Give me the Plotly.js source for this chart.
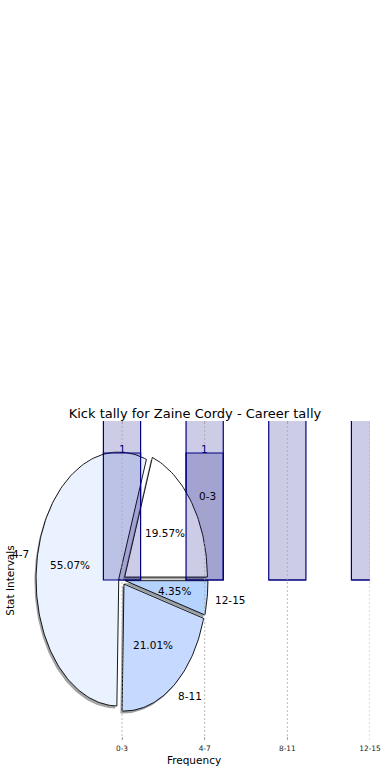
<!DOCTYPE html>
<html><head><meta charset="utf-8">
<script src="https://cdn.plot.ly/plotly-3.0.1.min.js"></script>
<style>html,body{margin:0;padding:0;background:#fff}#chart{width:390px;height:780px}</style>
</head><body><div id="chart"></div>
<script>
// ---- data ----
const categories = ['0-3', '4-7', '8-11', '12-15'];
const pieShares = [19.57, 55.07, 21.01, 4.35];   // percent shown on the pie
const totalCounts = [27, 76, 29, 6];               // tall bars (clipped by the axes)
const sampleCounts = [1, 1, 0, 0];                 // short bars labelled "1"
const sampleLabels = ['1', '1', '', ''];

// ---- styles ----
const sliceColors = ['#ffffff', '#ebf2ff', '#c6d9ff', '#b4d4ff'];
const EXPLODE = 0.04, SHADOW = 0.02;
const NAVY = '#000080';
const FONT = 'DejaVu Sans, sans-serif';
const XR = [-1.258, 3], YR = [-1.26, 1.252];

const idx = categories.map((_, i) => i);
const total = pieShares.reduce((a, b) => a + b, 0);

function hexToRgb(h) { const n = parseInt(h.slice(1), 16); return [(n >> 16) & 255, (n >> 8) & 255, n & 255]; }

let start = 0;
const wedges = pieShares.map((p, i) => {
  const sweep = p / total * 360;
  const t1 = start, t2 = start + sweep; start = t2;
  const mid = (t1 + t2) / 2 * Math.PI / 180;
  const cx = EXPLODE * Math.cos(mid), cy = EXPLODE * Math.sin(mid);
  const xs = [cx], ys = [cy];
  const n = Math.max(6, Math.ceil(sweep / 1.5));
  for (let k = 0; k <= n; k++) {
    const a = (t1 + sweep * k / n) * Math.PI / 180;
    xs.push(cx + Math.cos(a)); ys.push(cy + Math.sin(a));
  }
  xs.push(cx); ys.push(cy);
  return { xs, ys, cx, cy, mid, p, i };
});

const traces = [];
traces.push({
  type: 'bar', x: idx, y: totalCounts, width: 0.45, xaxis: 'x', yaxis: 'y',
  marker: { color: 'rgba(0,0,128,0.2)', line: { color: NAVY, width: 1.2 } },
  hoverinfo: 'skip'
});
wedges.forEach(w => {
  const c = hexToRgb(sliceColors[w.i]).map(v => Math.round(v * 0.3));
  traces.push({
    type: 'scatter', mode: 'lines', xaxis: 'x', yaxis: 'y',
    x: w.xs.map(v => v - SHADOW), y: w.ys.map(v => v - SHADOW),
    fill: 'toself', fillcolor: `rgba(${c[0]},${c[1]},${c[2]},0.5)`,
    line: { width: 0 }, hoverinfo: 'skip'
  });
});
wedges.forEach(w => {
  traces.push({
    type: 'scatter', mode: 'lines', xaxis: 'x', yaxis: 'y',
    x: w.xs, y: w.ys, fill: 'toself', fillcolor: sliceColors[w.i],
    line: { color: '#000', width: 0.9 }, hoverinfo: 'skip'
  });
});
traces.push({
  type: 'bar', x: idx, y: sampleCounts, width: 0.45, xaxis: 'x2', yaxis: 'y2',
  marker: { color: 'rgba(0,0,128,0.2)', line: { color: NAVY, width: 1.2 } },
  hoverinfo: 'skip'
});

const annotations = [];
idx.forEach(i => {
  if (!sampleLabels[i]) return;
  annotations.push({
    x: i, y: sampleCounts[i], xref: 'x2', yref: 'y2', text: sampleLabels[i], showarrow: false,
    xanchor: 'center', yanchor: 'bottom', yshift: -4,
    font: { size: 10.5, family: FONT, color: NAVY }
  });
});
wedges.forEach(w => {
  const lx = w.cx + 1.1 * Math.cos(w.mid), ly = w.cy + 1.1 * Math.sin(w.mid);
  annotations.push({
    x: lx, y: ly, xref: 'x', yref: 'y', text: categories[w.i], showarrow: false,
    xanchor: lx > 0 ? 'left' : 'right', yanchor: 'middle', xshift: lx > 0 ? -2 : 2,
    font: { size: 10.5, family: FONT, color: '#000' }
  });
  annotations.push({
    x: w.cx + 0.6 * Math.cos(w.mid), y: w.cy + 0.6 * Math.sin(w.mid), xref: 'x', yref: 'y',
    text: w.p.toFixed(2) + '%', showarrow: false, xanchor: 'center', yanchor: 'middle',
    font: { size: 10.5, family: FONT, color: '#000' }
  });
});

const shapes = idx.map(i => ({
  type: 'line', xref: 'x', yref: 'paper', x0: i, x1: i, y0: 0, y1: 1, layer: 'above',
  line: { color: 'rgba(165,165,165,0.75)', width: 1, dash: '2px,2px' }
}));

const layout = {
  width: 390, height: 780,
  margin: { l: 18, r: 20, t: 421, b: 40 },
  paper_bgcolor: '#fff', plot_bgcolor: 'rgba(0,0,0,0)',
  showlegend: false,
  font: { family: FONT, color: '#000' },
  title: { text: 'Kick tally for Zaine Cordy - Career tally', font: { size: 13, family: FONT, color: '#000' },
           x: 0.5, xanchor: 'center', y: 1 - 413 / 780, yanchor: 'middle' },
  xaxis: { range: XR, tickmode: 'array', tickvals: idx, ticktext: categories, showgrid: false, zeroline: false,
           showline: false, ticks: 'inside', ticklen: 3, tickcolor: '#aaa', mirror: 'ticks',
           ticklabelstandoff: 3,
           tickfont: { size: 7.4, family: FONT, color: '#222' },
           title: { text: 'Frequency', font: { size: 10.5, family: FONT }, standoff: 4 } },
  yaxis: { range: YR, showticklabels: false, ticks: '', showgrid: false, zeroline: false, showline: false,
           title: { text: 'Stat Intervals', font: { size: 10.5, family: FONT }, standoff: 0 } },
  xaxis2: { overlaying: 'x', range: XR, visible: false, anchor: 'y2' },
  yaxis2: { overlaying: 'y', range: YR, visible: false, anchor: 'x2' },
  annotations, shapes
};

Plotly.newPlot('chart', traces, layout, { displayModeBar: false, staticPlot: true });
</script></body></html>
